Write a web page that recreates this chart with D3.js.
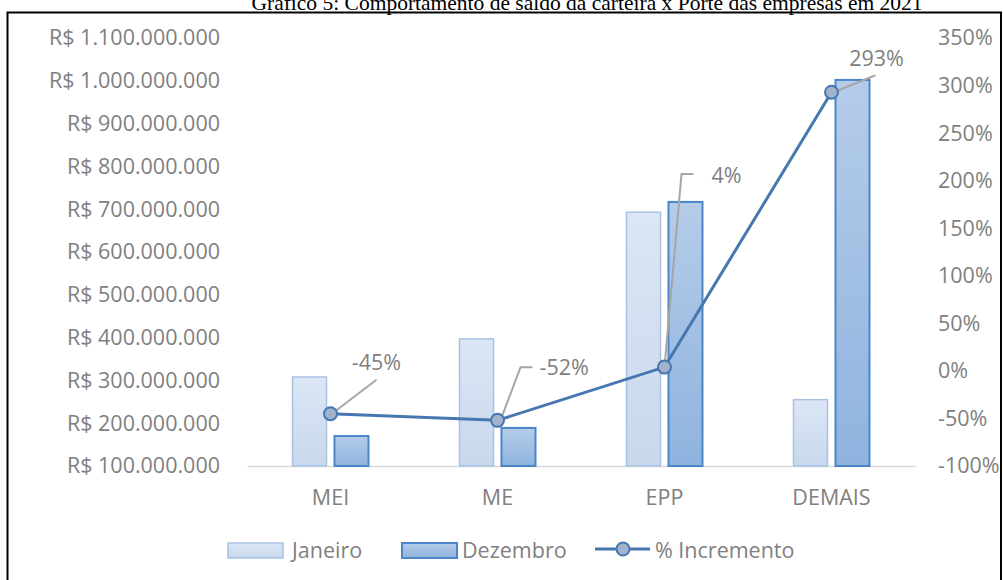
<!DOCTYPE html>
<html>
<head>
<meta charset="utf-8">
<script src="https://cdn.jsdelivr.net/npm/d3@7"></script>
<style>
  html, body { margin: 0; padding: 0; background: #ffffff; }
  svg { display: block; }
  .lbl { font-family: "Open Sans", sans-serif; font-size: 21.5px; fill: #808080; }
</style>
</head>
<body>
<svg id="chart" width="1003" height="580"></svg>
<script>
// Saldo da carteira por porte de empresa, janeiro x dezembro de 2021
const categories = ["MEI", "ME", "EPP", "DEMAIS"];
const seriesNames = ["Janeiro", "Dezembro"];
const janeiro  = [308000000, 397000000, 693000000, 255000000];
const dezembro = [170000000, 189000000, 717000000, 1002000000];
const incremento = [-0.45, -0.52, 0.04, 2.93];
const leftTicks = [100000000, 200000000, 300000000, 400000000, 500000000, 600000000,
                   700000000, 800000000, 900000000, 1000000000, 1100000000];
const rightTicks = [-1, -0.5, 0, 0.5, 1, 1.5, 2, 2.5, 3, 3.5];
const titleText = "Gráfico 5: Comportamento de saldo da carteira x Porte das empresas em 2021";

const br = d3.formatLocale({
  decimal: ",", thousands: ".", grouping: [3], currency: ["R$ ", ""], minus: "-"
});
const fmtMoney = br.format("$,.0f");
const fmtPct = br.format(".0%");

const svg = d3.select("#chart");

// Plot area
const plot = { left: 247, right: 915, top: 38, bottom: 466 };

// Title and frame
svg.append("text")
  .attr("x", 587).attr("y", 10)
  .attr("text-anchor", "middle")
  .style("font-family", "'Liberation Serif', 'Times New Roman', serif")
  .style("font-size", "21.5px")
  .style("fill", "#000")
  .text(titleText);

svg.append("rect")
  .attr("x", 7.5).attr("y", 12.5)
  .attr("width", 993.5).attr("height", 600)
  .attr("fill", "none").attr("stroke", "#000").attr("stroke-width", 2);

// Scales
const x0 = d3.scaleBand().domain(categories)
  .range([plot.left, plot.right]).paddingInner(0.545).paddingOuter(0.2725);
const x1 = d3.scaleBand().domain(seriesNames)
  .range([0, x0.bandwidth()]).paddingInner(0.19);
const yL = d3.scaleLinear().domain([100000000, 1100000000]).range([plot.bottom, plot.top]);
const yR = d3.scaleLinear().domain([-1, 3.5]).range([plot.bottom, plot.top]);

// Gradients for the bar fills
const defs = svg.append("defs");
function grad(id, top, bottom) {
  const g = defs.append("linearGradient").attr("id", id)
    .attr("x1", 0).attr("y1", 0).attr("x2", 0).attr("y2", 1);
  g.append("stop").attr("offset", "0%").attr("stop-color", top);
  g.append("stop").attr("offset", "100%").attr("stop-color", bottom);
}
grad("gJan", "#dce6f4", "#c8d8ed");
grad("gDez", "#b5cce9", "#8fb3df");
const barStyle = {
  Janeiro:  { fill: "url(#gJan)", stroke: "#a9c2e3", width: 1.5 },
  Dezembro: { fill: "url(#gDez)", stroke: "#4a86c8", width: 2 }
};

// Axes
const axL = svg.append("g").attr("transform", `translate(${plot.left - 19},0)`)
  .call(d3.axisLeft(yL).tickValues(leftTicks).tickFormat(fmtMoney).tickSize(0).tickPadding(8));
const axR = svg.append("g").attr("transform", `translate(${plot.right + 15},0)`)
  .call(d3.axisRight(yR).tickValues(rightTicks).tickFormat(fmtPct).tickSize(0).tickPadding(8));
[axL, axR].forEach(a => {
  a.select(".domain").remove();
  a.selectAll("text").attr("class", "lbl");
});

const axB = svg.append("g").attr("transform", `translate(0,${plot.bottom})`)
  .call(d3.axisBottom(x0).tickSize(0).tickSizeOuter(0).tickPadding(24));
axB.select(".domain").attr("stroke", "#d9d9d9").attr("stroke-width", 1.5);
axB.selectAll("text").attr("class", "lbl");

// Bars
const rows = categories.map((c, i) => ({ cat: c, Janeiro: janeiro[i], Dezembro: dezembro[i] }));
const groups = svg.append("g").selectAll("g").data(rows).join("g")
  .attr("transform", d => `translate(${x0(d.cat)},0)`);
groups.selectAll("rect")
  .data(d => seriesNames.map(s => ({ s, v: d[s] })))
  .join("rect")
  .attr("x", d => x1(d.s))
  .attr("width", x1.bandwidth())
  .attr("y", d => yL(d.v))
  .attr("height", d => yL.range()[0] - yL(d.v))
  .attr("fill", d => barStyle[d.s].fill)
  .attr("stroke", d => barStyle[d.s].stroke)
  .attr("stroke-width", d => barStyle[d.s].width);

// % Incremento line
const pts = categories.map((c, i) => ({
  x: x0(c) + x0.bandwidth() / 2,
  y: yR(incremento[i]),
  v: incremento[i]
}));

// Data label placement (offsets from each point): leader path + text anchor
const labelLayout = [
  { path: [[4, -2], [46, -34]],             tx: 46, ty: -51, anchor: "middle" },
  { path: [[3, 0], [23, -53], [35, -53]],   tx: 42, ty: -53, anchor: "start" },
  { path: [[0, 0], [17, -193], [29, -193]], tx: 47, ty: -192, anchor: "start" },
  { path: [[2, 0], [44, -17]],              tx: 45, ty: -34, anchor: "middle" }
];

const leaders = svg.append("g");
pts.forEach((p, i) => {
  const L = labelLayout[i];
  leaders.append("path")
    .attr("d", d3.line()(L.path.map(([dx, dy]) => [p.x + dx, p.y + dy])))
    .attr("fill", "none").attr("stroke", "#a6a6a6").attr("stroke-width", 2);
});

svg.append("path")
  .datum(pts)
  .attr("d", d3.line().x(d => d.x).y(d => d.y))
  .attr("fill", "none").attr("stroke", "#4677b0").attr("stroke-width", 3);

svg.append("g").selectAll("circle").data(pts).join("circle")
  .attr("cx", d => d.x).attr("cy", d => d.y).attr("r", 6.5)
  .attr("fill", "#a2b4cc").attr("stroke", "#4677b0").attr("stroke-width", 2);

svg.append("g").selectAll("text").data(pts).join("text")
  .attr("class", "lbl")
  .attr("x", (d, i) => d.x + labelLayout[i].tx)
  .attr("y", (d, i) => d.y + labelLayout[i].ty)
  .attr("dy", "0.35em")
  .attr("text-anchor", (d, i) => labelLayout[i].anchor)
  .text(d => fmtPct(d.v));

// Legend
const lg = svg.append("g").attr("transform", "translate(0,550)");
const legendItems = [
  { name: "Janeiro",  kind: "Janeiro",  x: 228, tx: 292 },
  { name: "Dezembro", kind: "Dezembro", x: 402, tx: 462 },
  { name: "% Incremento", kind: "line", x: 595, tx: 655 }
];
legendItems.forEach(it => {
  if (it.kind === "line") {
    lg.append("line").attr("x1", it.x).attr("x2", it.x + 55).attr("y1", -1).attr("y2", -1)
      .attr("stroke", "#4677b0").attr("stroke-width", 3);
    lg.append("circle").attr("cx", it.x + 28).attr("cy", -1).attr("r", 6.5)
      .attr("fill", "#a2b4cc").attr("stroke", "#4677b0").attr("stroke-width", 2);
  } else {
    lg.append("rect").attr("x", it.x).attr("y", -7).attr("width", 55).attr("height", 15)
      .attr("fill", barStyle[it.kind].fill).attr("stroke", barStyle[it.kind].stroke)
      .attr("stroke-width", barStyle[it.kind].width);
  }
  lg.append("text").attr("class", "lbl").attr("x", it.tx).attr("y", 0).attr("dy", "0.35em")
    .text(it.name);
});
</script>
</body>
</html>
